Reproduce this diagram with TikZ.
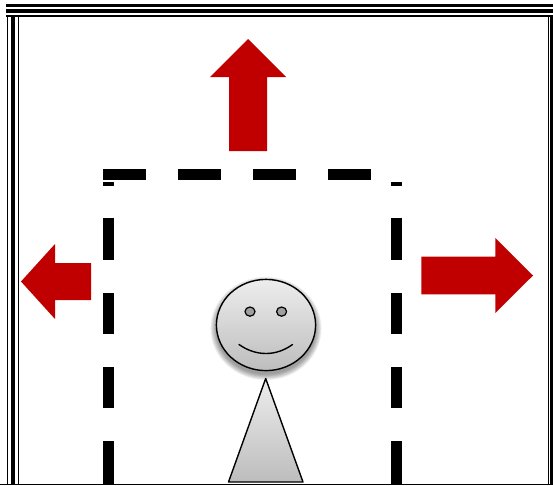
\documentclass[tikz,border=0pt]{standalone}
\begin{document}
\begin{tikzpicture}[x=1pt,y=-1pt,
  band/.style={fill=black,draw=none},
  dashbar/.style={fill=black,draw=none},
  arrowshape/.style={fill=arrowred,draw=none},
  facepart/.style={draw=black,line width=1.4pt,line join=round},
  softshade/.style={top color=grayTop,bottom color=grayBottom}]
\definecolor{arrowred}{HTML}{C00000}
\definecolor{grayTop}{HTML}{EDEDED}
\definecolor{grayBottom}{HTML}{BDBDBD}
\useasboundingbox (0,0) rectangle (553,485);
\fill[white] (0,0) rectangle (553,485);
% frame: top triple band
\fill[band] (5.5,4) rectangle (553,6.7);
\fill[band] (5.5,8.5) rectangle (553,13.2);
\fill[band] (5.5,15) rectangle (553,17);
% frame: left triple band
\fill[band] (6.7,15) rectangle (8,485);
\fill[band] (10.7,15) rectangle (15.3,485);
\fill[band] (17.6,15) rectangle (19.4,485);
% frame: right double band
\fill[band] (547.6,15) rectangle (549,485);
\fill[band] (550.4,15) rectangle (552.6,485);
% bottom line
\fill[band] (0,483.6) rectangle (553,485);
% dashed room: top
\foreach \x in {103,178,253,328}
  \fill[dashbar] (\x,169.2) rectangle (\x+42.5,179.6);
% dashed room: left and right
\foreach \x in {103,390.6}{
  \fill[dashbar] (\x,182) rectangle (\x+11,186);
  \fill[dashbar] (\x,218) rectangle (\x+11,260);
  \fill[dashbar] (\x,293) rectangle (\x+11,334);
  \fill[dashbar] (\x,367) rectangle (\x+11,408);
  \fill[dashbar] (\x,441) rectangle (\x+11,484);
}
% arrows
\fill[arrowshape] (248,39) -- (286,77) -- (267,77) -- (267,151) -- (229,151) -- (229,77) -- (210,77) -- cycle;
\fill[arrowshape] (21,281.5) -- (55,244) -- (55,263) -- (91,263) -- (91,300) -- (55,300) -- (55,319) -- cycle;
\fill[arrowshape] (533,275.5) -- (495.3,238) -- (495.3,256.7) -- (421.3,256.7) -- (421.3,294.3) -- (495.3,294.3) -- (495.3,313) -- cycle;
% head shadow
\foreach \r in {7,6,5,4,3,2,1,0}
  \fill[black,opacity=0.055] (266,328.5) ellipse [x radius=50+\r*0.8,y radius=46+\r*0.8];
% head
\path[facepart,softshade] (266,325) ellipse [x radius=49.6,y radius=45.6];
\path[facepart,fill=gray!75,line width=1.2pt] (250,311.6) ellipse [x radius=5,y radius=4.6];
\path[facepart,fill=gray!75,line width=1.2pt] (281.6,311.6) ellipse [x radius=5,y radius=4.6];
\draw[facepart,line cap=round] (239,344.5) .. controls (256,356.5) and (276,356.5) .. (292.5,344.5);
% body
\path[facepart,softshade] (265.7,378.5) -- (303,482) -- (228.5,482) -- cycle;
\end{tikzpicture}
\end{document}
